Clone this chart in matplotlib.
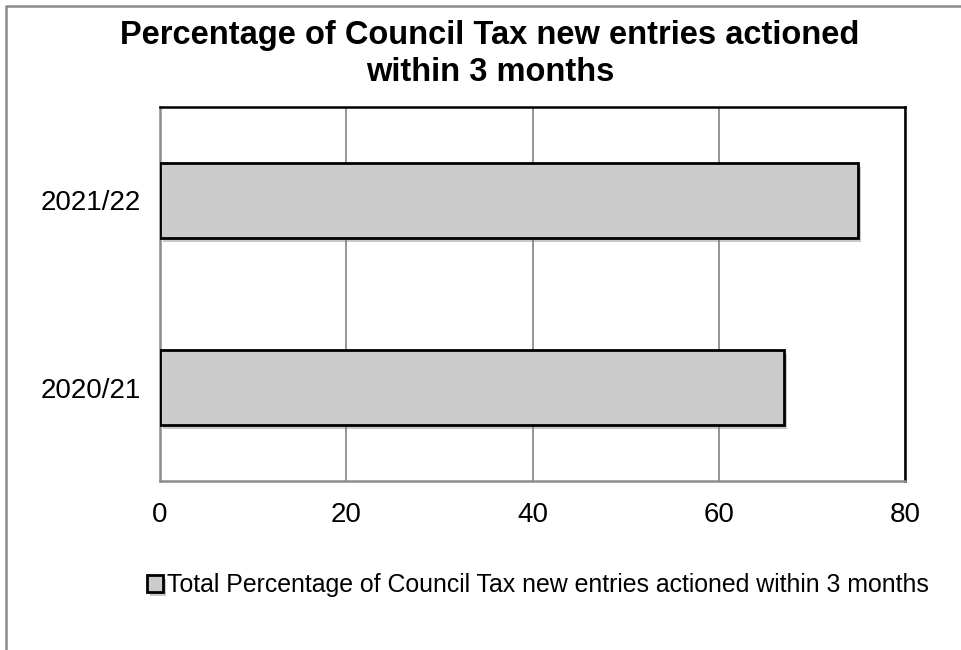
import matplotlib
matplotlib.use("Agg")
import matplotlib.pyplot as plt
import matplotlib.patheffects as pe
from matplotlib.lines import Line2D

categories = ["2020/21", "2021/22"]
values = [67, 75]
xticks = [0, 20, 40, 60, 80]
title = "Percentage of Council Tax new entries actioned\nwithin 3 months"
legend_label = "Total Percentage of Council Tax new entries actioned within 3 months"

plt.rcParams['font.family'] = ['Liberation Sans', 'DejaVu Sans']

W, H = 962, 650
fig = plt.figure(figsize=(W / 100, H / 100), dpi=100)
fig.patch.set_facecolor("white")

ax = fig.add_axes([160 / W, 1 - 481 / H, (905 - 160) / W, (481 - 107) / H])

bars = ax.barh(range(len(categories)), values, height=0.4, color="#cccccc",
               edgecolor="black", linewidth=2, label=legend_label, zorder=3)
for b in bars:
    b.set_path_effects([pe.SimplePatchShadow(offset=(2, -3), shadow_rgbFace="#777777", alpha=0.4),
                        pe.Normal()])

ax.set_xlim(0, 80)
ax.set_ylim(-0.5, len(categories) - 0.5)
ax.set_xticks(xticks)
ax.set_xticklabels([str(t) for t in xticks])
ax.set_yticks(range(len(categories)))
ax.set_yticklabels(categories)
ax.tick_params(axis="both", length=0, labelsize=20, colors="black")
ax.tick_params(axis="x", pad=15)
ax.tick_params(axis="y", pad=14)
ax.grid(axis="x", color="#8c8c8c", linewidth=1.3, zorder=0)
ax.set_axisbelow(True)

for side in ["top", "right"]:
    ax.spines[side].set_color("black")
    ax.spines[side].set_linewidth(1.8)
for side in ["left", "bottom"]:
    ax.spines[side].set_color("#8c8c8c")
    ax.spines[side].set_linewidth(1.8)

fig.text(490 / W, 1 - 54 / H, title, ha="center", va="center", fontsize=23.5,
         fontweight="bold", linespacing=1.22)

fig.legend(handles=[bars], labels=[legend_label], loc="center left",
           bbox_to_anchor=(147 / W, 1 - 585 / H), frameon=False, fontsize=17.9,
           handlelength=0.65, handleheight=0.65, handletextpad=0.15, borderpad=0,
           borderaxespad=0)

fig.add_artist(Line2D([6 / W, 6 / W, 1.01], [-0.01, 1 - 6 / H, 1 - 6 / H],
                      transform=fig.transFigure, color="#898989", linewidth=1.8))

fig.savefig("out.png", dpi=100)
